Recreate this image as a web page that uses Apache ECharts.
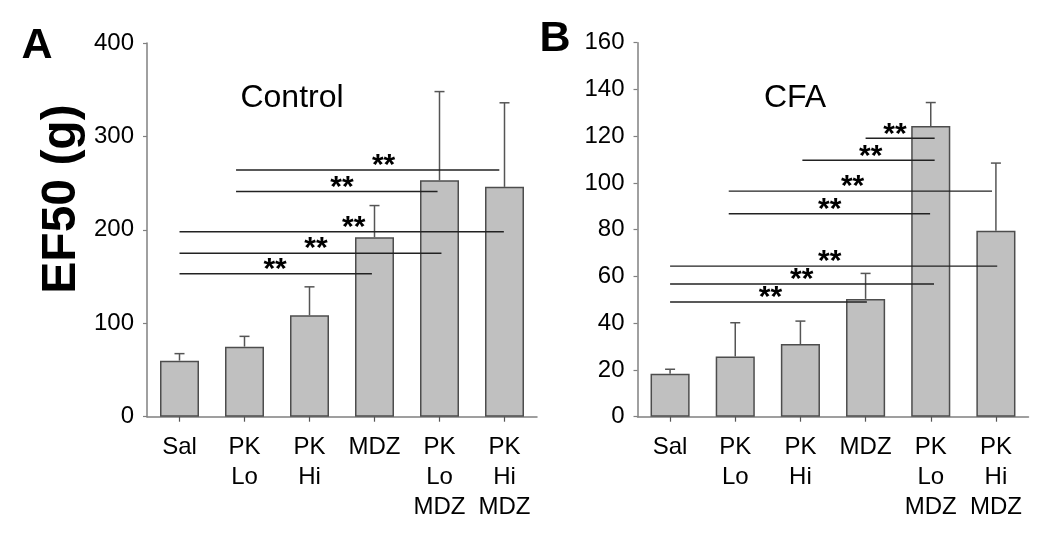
<!DOCTYPE html>
<html><head><meta charset="utf-8">
<script src="https://cdn.jsdelivr.net/npm/echarts@6/dist/echarts.min.js"></script>
<style>html,body{margin:0;padding:0;background:#fff}#c{width:1050px;height:537px}</style>
</head><body><div id="c"></div><script>
// ---- data ----
const categories = ['Sal', 'PK\nLo', 'PK\nHi', 'MDZ', 'PK\nLo\nMDZ', 'PK\nHi\nMDZ'];
const controlMean = [60, 75, 108.5, 192, 253, 246];
const controlSem = [7.5, 11, 30.5, 34, 95, 90];
const cfaMean = [18.4, 25.8, 31.1, 50.4, 124.4, 79.5];
const cfaSem = [1.9, 14.4, 9.8, 10.9, 10, 29];
const controlYTicks = [0, 100, 200, 300, 400];
const cfaYTicks = [0, 20, 40, 60, 80, 100, 120, 140, 160];
// significance bars: start / end (category position), height, star position
const controlSigFrom = [0.87, 0.87, 0, 0, 0];
const controlSigTo = [4.92, 3.97, 4.99, 4.03, 2.96];
const controlSigY = [264, 241, 198, 175, 153];
const controlStarX = [3.14, 2.5, 2.68, 2.1, 1.47];
const cfaSigFrom = [3.0, 2.03, 0.9, 0.9, 0, 0, 0];
const cfaSigTo = [4.06, 4.06, 4.94, 3.99, 5.02, 4.05, 3.02];
const cfaSigY = [119.1, 109.7, 96.5, 86.8, 64.4, 56.8, 49.1];
const cfaStarX = [3.45, 3.08, 2.8, 2.45, 2.45, 2.02, 1.54];
const starText = '**';

const FONT = '"Liberation Sans", Arial, sans-serif';
const chart = echarts.init(document.getElementById('c'), null, {renderer: 'canvas'});

function catAxis(gi) {
  return {
    type: 'category', gridIndex: gi, data: categories,
    axisLine: {onZero: false, lineStyle: {color: '#808080', width: 1.5}},
    axisTick: {show: true, alignWithLabel: true, length: 5, lineStyle: {color: '#555', width: 1.2}},
    axisLabel: {color: '#000', fontSize: 24, fontFamily: FONT, lineHeight: 30, margin: 16, interval: 0}
  };
}
function valAxisHidden(gi) {
  return {type: 'value', gridIndex: gi, min: -0.5, max: 5.5, show: false};
}
function yAxis(gi, ticks) {
  return {
    type: 'value', gridIndex: gi, min: ticks[0], max: ticks[ticks.length - 1],
    interval: ticks[1] - ticks[0],
    splitLine: {show: false},
    axisLine: {show: true, onZero: false, lineStyle: {color: '#808080', width: 1.5}},
    axisTick: {show: true, length: 4, lineStyle: {color: '#808080', width: 1.2}},
    axisLabel: {color: '#000', fontSize: 24, fontFamily: FONT, margin: 13}
  };
}
function barSeries(xi, yi, vals) {
  return {
    type: 'bar', xAxisIndex: xi, yAxisIndex: yi, data: vals, barWidth: '60%',
    itemStyle: {color: '#c0c0c0', borderColor: '#4d4d4d', borderWidth: 1.5},
    silent: true, z: 2
  };
}
function errSeries(xi, yi, means, sems) {
  return {
    type: 'custom', xAxisIndex: xi, yAxisIndex: yi, z: 3, silent: true,
    data: means.map((m, i) => [i, m, sems[i]]),
    renderItem: function (params, api) {
      const p0 = api.coord([api.value(0), api.value(1)]);
      const p1 = api.coord([api.value(0), api.value(1) + api.value(2)]);
      const st = {stroke: '#555', lineWidth: 1.5};
      return {type: 'group', children: [
        {type: 'line', shape: {x1: p0[0], y1: p0[1], x2: p1[0], y2: p1[1]}, style: st},
        {type: 'line', shape: {x1: p1[0] - 5, y1: p1[1], x2: p1[0] + 5, y2: p1[1]}, style: st}
      ]};
    }
  };
}
function sigSeries(xi, yi, from, to, ys, sx) {
  return {
    type: 'custom', xAxisIndex: xi, yAxisIndex: yi, z: 5, silent: true,
    data: from.map((f, i) => [f, to[i], ys[i], sx[i]]),
    renderItem: function (params, api) {
      const a = api.coord([api.value(0), api.value(2)]);
      const b = api.coord([api.value(1), api.value(2)]);
      const s = api.coord([api.value(3), api.value(2)]);
      return {type: 'group', children: [
        {type: 'line', shape: {x1: a[0], y1: a[1], x2: b[0], y2: b[1]}, style: {stroke: '#222', lineWidth: 1.4}},
        {type: 'text', x: s[0], y: s[1] + 11, style: {text: starText, font: 'bold 30px ' + FONT, fill: '#000', align: 'center', verticalAlign: 'bottom'}}
      ]};
    }
  };
}

const option = {
  animation: false,
  backgroundColor: '#fff',
  grid: [
    {left: 147, top: 43, width: 390, height: 373.7},
    {left: 637.5, top: 42.7, width: 391, height: 374}
  ],
  xAxis: [catAxis(0), valAxisHidden(0), catAxis(1), valAxisHidden(1)],
  yAxis: [yAxis(0, controlYTicks), yAxis(1, cfaYTicks)],
  series: [
    barSeries(0, 0, controlMean),
    errSeries(0, 0, controlMean, controlSem),
    sigSeries(1, 0, controlSigFrom, controlSigTo, controlSigY, controlStarX),
    barSeries(2, 1, cfaMean),
    errSeries(2, 1, cfaMean, cfaSem),
    sigSeries(3, 1, cfaSigFrom, cfaSigTo, cfaSigY, cfaStarX)
  ],
  graphic: [
    {type: 'text', x: 37, y: 46, style: {text: 'A', font: 'bold 43px ' + FONT, fill: '#000', align: 'center', verticalAlign: 'middle'}},
    {type: 'text', x: 555, y: 39, style: {text: 'B', font: 'bold 43px ' + FONT, fill: '#000', align: 'center', verticalAlign: 'middle'}},
    {type: 'text', x: 62, y: 199, rotation: Math.PI / 2, style: {text: 'EF50 (g)', font: 'bold 48px ' + FONT, fill: '#000', align: 'center', verticalAlign: 'middle'}},
    {type: 'text', x: 292, y: 98, style: {text: 'Control', font: '32px ' + FONT, fill: '#000', align: 'center', verticalAlign: 'middle'}},
    {type: 'text', x: 795, y: 98, style: {text: 'CFA', font: '32px ' + FONT, fill: '#000', align: 'center', verticalAlign: 'middle'}}
  ]
};
chart.setOption(option);
</script></body></html>
